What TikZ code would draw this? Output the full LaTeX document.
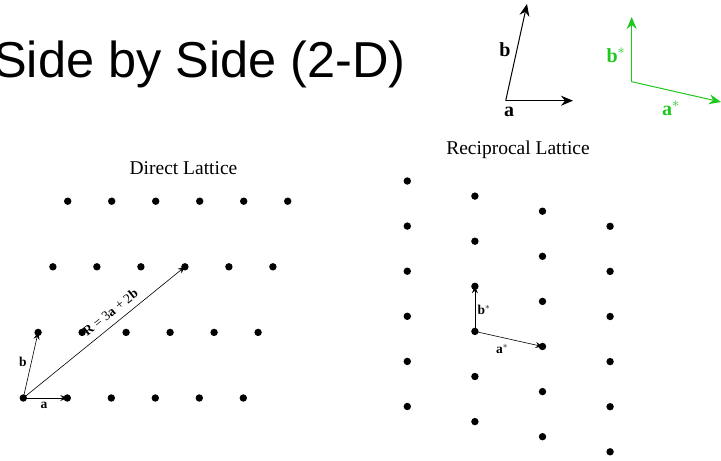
\documentclass[tikz,border=0pt]{standalone}
\usepackage{fontspec}
\setmainfont{Liberation Serif}
\newfontfamily\titlefont{Liberation Sans}
\usetikzlibrary{arrows.meta,positioning,calc}
\definecolor{mygreen}{RGB}{30,200,30}

\tikzset{
  dot/.style={circle, fill=black, inner sep=0pt, minimum size=7.4pt},
  vec/.style={-{Stealth[length=7pt,width=6pt,inset=2.5pt]}, line width=0.6pt},
  bigvec/.style={-{Stealth[length=12pt,width=10pt,inset=4pt]}, line width=1pt},
  lbl/.style={font=\fontsize{13.5}{15}\selectfont\bfseries, inner sep=1pt},
  biglbl/.style={font=\fontsize{20}{22}\selectfont\bfseries, inner sep=1pt},
  caption/.style={font=\fontsize{19.5}{22}\selectfont}
}

\begin{document}
\begin{tikzpicture}[x=1pt, y=-1pt]
  \useasboundingbox (0,0) rectangle (721,461);

  % Title
  \node[anchor=base west, inner sep=0pt, font=\titlefont\fontsize{50.5}{55}\selectfont]
    (title) at (-7,77) {Side by Side (2-D)};

  % Basis vectors, direct
  \coordinate (o) at (505.7,100.7);
  \coordinate (atip) at (573,100.7);
  \coordinate (btip) at (527,4);
  \draw[bigvec] (o) -- (atip);
  \draw[bigvec] (o) -- (btip);
  \node[biglbl] (blab) at (505,50) {b};
  \node[biglbl] (alab) at (509,112) {a};

  % Basis vectors, reciprocal (green)
  \coordinate (os) at (631.7,81.7);
  \coordinate (astip) at (721,102);
  \coordinate (bstip) at (631.7,17);
  \draw[bigvec, mygreen] (os) -- (astip);
  \draw[bigvec, mygreen] (os) -- (bstip);
  \node[biglbl, text=mygreen] (bslab) at (616,55) {b$^{*}$};
  \node[biglbl, text=mygreen] (aslab) at (671,108) {a$^{*}$};

  % Direct lattice
  \node[caption] (dtitle) at (183.5,168) {Direct Lattice};
  \foreach \j in {0,...,3}{
    \foreach \i in {0,...,5}{
      \node[dot] (d-\i-\j) at ({23.3+44*\i+14.8*\j},{398-65.6*\j}) {};
    }
  }
  \draw[vec] (d-0-0.center) -- (d-1-0.center);
  \draw[vec] (d-0-0.center) -- (d-0-1.center);
  \draw[vec] (d-0-0.center) -- (d-3-2.center);
  \node[lbl] (la) at (44,405) {a};
  \node[lbl] (lb) at (23,362) {b};
  \node[lbl, font=\fontsize{13.5}{15}\selectfont, rotate=39, anchor=south]
    (lR) at (114,317) {\textbf{R} = 3\textbf{a} + 2\textbf{b}};

  % Reciprocal lattice
  \node[caption] (rtitle) at (518,150) {Reciprocal Lattice};
  \foreach \i in {0,...,3}{
    \foreach \j in {0,...,5}{
      \node[dot] (r-\i-\j) at ({407.3+67.6*\i},{181+15.1*\i+45.1*\j}) {};
    }
  }
  \draw[vec] (r-1-3.center) -- (r-2-3.center);
  \draw[vec] (r-1-3.center) -- (r-1-2.center);
  \node[lbl] (las) at (502,349) {a$^{*}$};
  \node[lbl] (lbs) at (484,310) {b$^{*}$};
\end{tikzpicture}
\end{document}
